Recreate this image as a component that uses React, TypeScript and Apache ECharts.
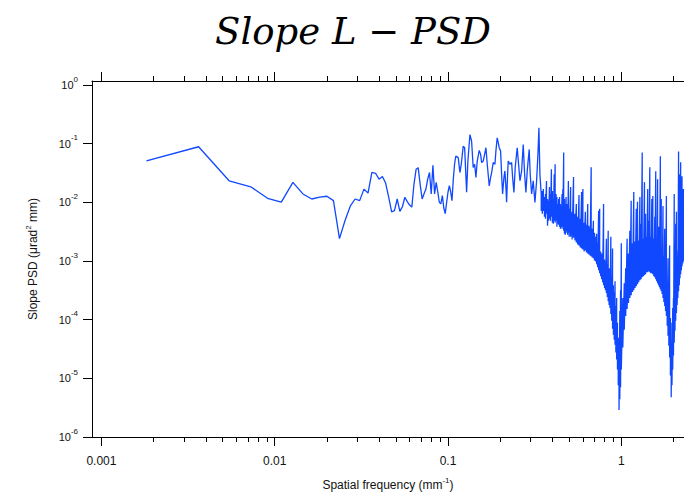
import React, { useEffect, useRef } from "react";
import * as echarts from "echarts";

// ---------- axis ranges and ticks ----------
const X_MIN = 0.000882;
const X_MAX = 2.3;
const Y_MIN = 1e-6;
const Y_MAX = 1.17;

const xMajorTicks = [0.001, 0.01, 0.1, 1];
const xTickLabels = ["0.001", "0.01", "0.1", "1"];
const xMinorTicks = [
  0.002, 0.003, 0.004, 0.005, 0.006, 0.007, 0.008, 0.009,
  0.02, 0.03, 0.04, 0.05, 0.06, 0.07, 0.08, 0.09,
  0.2, 0.3, 0.4, 0.5, 0.6, 0.7, 0.8, 0.9,
  2,
];
const yMajorTicks = [1e-6, 1e-5, 1e-4, 1e-3, 1e-2, 1e-1, 1];
const yTickExponents = ["-6", "-5", "-4", "-3", "-2", "-1", "0"];

// ---------- data: low-frequency bins (mm^-1, µrad² mm) ----------
const lowFreq = [
  0.001818, 0.003636, 0.005454, 0.007272, 0.00909, 0.01091, 0.01273, 0.01454, 0.01636, 0.01818,
  0.02, 0.02182, 0.02363, 0.02545, 0.02727, 0.02909, 0.03091, 0.03272, 0.03454, 0.03636,
  0.03818, 0.04, 0.04181, 0.04363, 0.04545, 0.04727, 0.04909, 0.0509, 0.05272, 0.05454,
  0.05636, 0.05818, 0.06, 0.06181, 0.06363, 0.06545, 0.06727, 0.06908, 0.0709, 0.07272,
  0.07454, 0.07636, 0.07817, 0.08, 0.08181, 0.08363, 0.08545, 0.08726, 0.08908, 0.0909,
  0.09272, 0.09454, 0.09635, 0.09817, 0.1, 0.1018, 0.1036, 0.1054, 0.1073, 0.1091, 0.1109,
];
const lowPsd = [
  0.0507, 0.0886, 0.0233, 0.0184, 0.0117, 0.0101, 0.0219, 0.0139, 0.0114, 0.0123,
  0.0127, 0.0107, 0.00241, 0.0049, 0.0086, 0.0114, 0.0107, 0.0168, 0.0144, 0.0323,
  0.0313, 0.0248, 0.0276, 0.0213, 0.0123, 0.0069, 0.0072, 0.0114, 0.007, 0.0084,
  0.0122, 0.0103, 0.009, 0.0083, 0.0205, 0.0367, 0.039, 0.02, 0.0114, 0.014,
  0.0168, 0.025, 0.0323, 0.0139, 0.0428, 0.0139, 0.0219, 0.015, 0.01, 0.0094,
  0.013, 0.008, 0.0064, 0.01, 0.015, 0.0193, 0.015, 0.0107, 0.025, 0.045, 0.0616,
];

// ---------- data: mid frequencies ----------
const midFreq = [
  0.1145, 0.1171, 0.1192, 0.1224, 0.1247, 0.128, 0.1302, 0.1338, 0.1368, 0.1397,
  0.1424, 0.1449, 0.1474, 0.1514, 0.1542, 0.1563, 0.1596, 0.1626, 0.1655, 0.1684,
  0.1729, 0.1761, 0.1785, 0.1823, 0.1865, 0.1889, 0.1922, 0.1949, 0.1974, 0.2011,
  0.2038, 0.2065, 0.2102, 0.2129, 0.2158, 0.2178, 0.2207, 0.2225, 0.2276, 0.2328,
  0.2359, 0.24, 0.2442, 0.2507, 0.2554, 0.26, 0.2659, 0.2716, 0.2767, 0.2815,
  0.2864, 0.2941, 0.298, 0.3037, 0.3101, 0.3173, 0.3245, 0.3302, 0.3346, 0.339,
];
const midPsd = [
  0.0578, 0.0322, 0.0445, 0.0907, 0.0853, 0.0148, 0.0506, 0.143, 0.11, 0.0392,
  0.0445, 0.0265, 0.0506, 0.0768, 0.0657, 0.0476, 0.0506, 0.0657, 0.0853, 0.0445,
  0.0191, 0.0265, 0.0322, 0.0476, 0.0445, 0.0747, 0.126, 0.104, 0.0853, 0.0747,
  0.0302, 0.0139, 0.0265, 0.0343, 0.018, 0.01, 0.0302, 0.0506, 0.0445, 0.0476,
  0.0265, 0.0148, 0.0392, 0.0853, 0.0445, 0.0233, 0.0343, 0.0969, 0.0302, 0.0148,
  0.0343, 0.0798, 0.0302, 0.0139, 0.0233, 0.01, 0.0233, 0.0657, 0.186, 0.0302,
];

// ---------- data: dense high-frequency band (upper and lower value per frequency) ----------
const bandFreq = [
  0.345, 0.35, 0.355, 0.36, 0.365, 0.37, 0.375, 0.38, 0.385, 0.39, 0.395, 0.4, 0.405, 0.41, 0.415, 0.42,
  0.425, 0.43, 0.435, 0.44, 0.445, 0.45, 0.455, 0.46, 0.465, 0.47, 0.475, 0.48, 0.485, 0.49, 0.495, 0.5,
  0.51, 0.52, 0.53, 0.54, 0.55, 0.56, 0.57, 0.58, 0.59, 0.6, 0.61, 0.62, 0.63, 0.64, 0.65, 0.66, 0.67, 0.68,
  0.69, 0.7, 0.71, 0.72, 0.73, 0.74, 0.75, 0.76, 0.77, 0.78, 0.79, 0.8, 0.81, 0.82, 0.83, 0.84, 0.85, 0.86,
  0.87, 0.88, 0.89, 0.9, 0.91, 0.92, 0.93, 0.94, 0.95, 0.96, 0.97, 0.98, 0.99, 1.0,
  1.02, 1.04, 1.06, 1.08, 1.1, 1.12, 1.14, 1.16, 1.18, 1.2, 1.22, 1.24, 1.26, 1.28, 1.3, 1.32, 1.34, 1.36,
  1.38, 1.4, 1.42, 1.44, 1.46, 1.48, 1.5, 1.52, 1.54, 1.56, 1.58, 1.6, 1.62, 1.64, 1.66, 1.68, 1.7, 1.72,
  1.74, 1.76, 1.78, 1.8, 1.82, 1.84, 1.86, 1.88, 1.9, 1.92, 1.94, 1.96, 1.98, 2.0, 2.02, 2.04, 2.06, 2.08,
  2.1, 2.12, 2.14, 2.16, 2.18, 2.2, 2.22, 2.24, 2.26, 2.28, 2.3,
];
const bandTop = [
  0.0139, 0.0156, 0.0168, 0.0123, 0.0139, 0.023, 0.0114, 0.0106, 0.0182, 0.0139, 0.0367, 0.0156, 0.0114, 0.0302, 0.0445, 0.0139,
  0.0123, 0.0094, 0.0114, 0.0123, 0.0094, 0.00836, 0.0139, 0.0168, 0.071, 0.0114, 0.0094, 0.0123, 0.0094, 0.00836, 0.023, 0.00774,
  0.0182, 0.00688, 0.0269, 0.00637, 0.0094, 0.00566, 0.0133, 0.00524, 0.015, 0.0168, 0.00449, 0.00688, 0.00415, 0.0094, 0.00399, 0.00369, 0.0396, 0.00355,
  0.00485, 0.00304, 0.0026, 0.00292, 0.00206, 0.00716, 0.00774, 0.00145, 0.00134, 0.0012, 0.0094, 0.00106, 0.000984, 0.0024, 0.000876, 0.00329, 0.00075, 0.000694,
  0.0026, 0.000549, 0.00163, 0.000387, 0.000295, 0.000452, 0.000171, 0.000234, 0.0000883, 0.0000493, 0.0000226, 0.000141, 0.000318, 0.002,
  0.000234, 0.000418, 0.00075, 0.0024, 0.00134, 0.00329, 0.0106, 0.002, 0.015, 0.00214, 0.00774, 0.0102, 0.00223, 0.0123, 0.00432, 0.071, 0.0024, 0.0221,
  0.00637, 0.0026, 0.0168, 0.00485, 0.0396, 0.0026, 0.0114, 0.0128, 0.0024, 0.00566, 0.0339, 0.00223, 0.0248, 0.00384, 0.00191, 0.0608, 0.0114, 0.00163,
  0.00869, 0.0012, 0.00355, 0.00075, 0.0128, 0.000418, 0.00111, 0.000234, 0.00183, 0.000107, 0.0000406, 0.0000883, 0.000158, 0.000234, 0.0139, 0.00051, 0.00432, 0.00688,
  0.0012, 0.00151, 0.0738, 0.0302, 0.0024, 0.0481, 0.00281, 0.0279, 0.00384, 0.0168, 0.00384,
];
const bandBottom = [
  0.00716, 0.00637, 0.00716, 0.00566, 0.00524, 0.00637, 0.00399, 0.00485, 0.00524, 0.00485, 0.00566, 0.00449, 0.00432, 0.00485, 0.00449, 0.00485,
  0.00384, 0.00432, 0.00415, 0.00384, 0.00355, 0.00384, 0.00355, 0.00384, 0.00329, 0.00292, 0.00281, 0.00329, 0.00304, 0.00281, 0.00304, 0.0026,
  0.0026, 0.00232, 0.0025, 0.00223, 0.00206, 0.00191, 0.00183, 0.0017, 0.00163, 0.00157, 0.00145, 0.00151, 0.0014, 0.00134, 0.00129, 0.00124, 0.0012, 0.00115,
  0.00111, 0.00102, 0.000984, 0.000876, 0.00078, 0.000694, 0.000617, 0.000549, 0.000489, 0.000435, 0.000387, 0.000345, 0.000318, 0.000284, 0.000243, 0.000207, 0.000178, 0.000158,
  0.000125, 0.0000954, 0.0000699, 0.0000553, 0.0000456, 0.0000375, 0.0000275, 0.000021, 0.0000142, 0.00000762, 0.00000288, 0.00000442, 0.00000705, 0.0000142,
  0.0000334, 0.0000673, 0.000116, 0.000152, 0.000192, 0.000234, 0.000262, 0.000295, 0.000318, 0.000345, 0.000372, 0.000403, 0.000435, 0.00047, 0.000489, 0.000528, 0.000549, 0.000571,
  0.000594, 0.000642, 0.000642, 0.000667, 0.000642, 0.000617, 0.000617, 0.000594, 0.000549, 0.000528, 0.000489, 0.000452, 0.000418, 0.000387, 0.000358, 0.000331, 0.000306, 0.000273,
  0.000234, 0.0002, 0.000171, 0.000141, 0.000116, 0.0000786, 0.0000533, 0.0000361, 0.0000226, 0.0000112, 0.00000478, 0.00000762, 0.0000142, 0.0000245, 0.0000406, 0.0000647, 0.0000954, 0.00013,
  0.000178, 0.000234, 0.000306, 0.000387, 0.00051, 0.000594, 0.000694, 0.00081, 0.000911, 0.000984, 0.00106,
];

const TITLE = "Slope L − PSD";
const X_NAME = "{n|Spatial frequency (mm}{s|-1}{n|)}";
const Y_NAME = "{n|Slope PSD (μrad}{s|2}{n| mm)}";

const FONT = '"Liberation Sans", Arial, sans-serif';
const TXT = "#111";
const AX = "#000";
const LINE_COLOR = "#1048ff";

export default function App() {
  const ref = useRef<HTMLDivElement>(null);

  useEffect(() => {
    if (!ref.current) return;
    const chart = echarts.init(ref.current, null, { renderer: "svg" });
    const lg = Math.log10;

    const data: number[][] = [];
    lowFreq.forEach((f, i) => data.push([f, lowPsd[i]]));
    midFreq.forEach((f, i) => data.push([f, midPsd[i]]));
    bandFreq.forEach((f, i) => {
      data.push([f, bandTop[i]]);
      data.push([f, bandBottom[i]]);
    });

    const idxOf = (arr: number[], v: number) =>
      arr.findIndex((t) => Math.abs(lg(t) - v) < 1e-6);

    const nameRich = {
      n: { fontSize: 12, fontFamily: FONT, color: TXT, lineHeight: 18, verticalAlign: "middle" },
      s: { fontSize: 8, fontFamily: FONT, color: TXT, lineHeight: 6, verticalAlign: "top" },
    };

    const expX = {
      type: "value",
      min: lg(X_MIN),
      max: lg(X_MAX),
      gridIndex: 0,
      splitLine: { show: false },
      axisLine: { show: false, onZero: false },
      axisLabel: { show: false },
    };

    const option: any = {
      animation: false,
      backgroundColor: "#fff",
      graphic: [
        {
          type: "text",
          x: 353,
          y: 31,
          style: {
            text: TITLE,
            font: 'italic 37px "DejaVu Serif"',
            fill: "#000",
            textAlign: "center",
            textVerticalAlign: "middle",
            align: "center",
            verticalAlign: "middle",
          },
        },
      ],
      grid: { left: 92, right: 0, top: 81, bottom: 55, containLabel: false },
      xAxis: [
        {
          type: "log",
          min: X_MIN,
          max: X_MAX,
          position: "bottom",
          axisLine: { show: true, onZero: false, lineStyle: { color: AX, width: 1 } },
          axisTick: { show: false },
          axisLabel: { show: false },
          splitLine: { show: false },
        },
        {
          ...expX,
          position: "bottom",
          axisTick: {
            show: true,
            length: 9,
            customValues: xMajorTicks.map(lg),
            lineStyle: { color: AX, width: 1 },
          },
          axisLabel: {
            show: true,
            customValues: xMajorTicks.map(lg),
            margin: 18,
            fontSize: 12,
            fontFamily: FONT,
            color: TXT,
            formatter: (v: number) => {
              const i = idxOf(xMajorTicks, v);
              return i >= 0 ? xTickLabels[i] : "";
            },
          },
          name: X_NAME,
          nameLocation: "middle",
          nameGap: 39,
          nameTextStyle: { rich: nameRich },
        },
        {
          ...expX,
          position: "bottom",
          axisTick: {
            show: true,
            length: 5,
            customValues: xMinorTicks.map(lg),
            lineStyle: { color: AX, width: 1 },
          },
        },
        {
          ...expX,
          position: "top",
          axisLine: { show: true, onZero: false, lineStyle: { color: AX, width: 1 } },
          axisTick: {
            show: true,
            length: 9,
            customValues: xMajorTicks.map(lg),
            lineStyle: { color: AX, width: 1 },
          },
        },
        {
          ...expX,
          position: "top",
          axisTick: {
            show: true,
            length: 5,
            customValues: xMinorTicks.map(lg),
            lineStyle: { color: AX, width: 1 },
          },
        },
      ],
      yAxis: [
        {
          type: "log",
          min: Y_MIN,
          max: Y_MAX,
          position: "left",
          axisLine: { show: true, onZero: false, lineStyle: { color: AX, width: 1 } },
          axisTick: { show: false },
          axisLabel: { show: false },
          splitLine: { show: false },
        },
        {
          type: "value",
          min: lg(Y_MIN),
          max: lg(Y_MAX),
          position: "left",
          splitLine: { show: false },
          axisLine: { show: false, onZero: false },
          axisTick: {
            show: true,
            length: 9,
            customValues: yMajorTicks.map(lg),
            lineStyle: { color: AX, width: 1 },
          },
          axisLabel: {
            show: true,
            customValues: yMajorTicks.map(lg),
            margin: 14,
            formatter: (v: number) => {
              const i = idxOf(yMajorTicks, v);
              return i >= 0 ? `{b|10}{s|${yTickExponents[i]}}` : "";
            },
            rich: {
              b: { fontSize: 11, fontFamily: FONT, color: TXT, lineHeight: 20, verticalAlign: "middle" },
              s: { fontSize: 8, fontFamily: FONT, color: TXT, lineHeight: 6, verticalAlign: "top" },
            },
          },
          name: Y_NAME,
          nameLocation: "middle",
          nameGap: 50,
          nameRotate: 90,
          nameTextStyle: { rich: nameRich },
        },
      ],
      series: [
        {
          type: "line",
          xAxisIndex: 0,
          yAxisIndex: 0,
          data,
          symbol: "none",
          showSymbol: false,
          silent: true,
          clip: true,
          lineStyle: { color: LINE_COLOR, width: 1.3 },
        },
      ],
    };

    chart.setOption(option);
    return () => chart.dispose();
  }, []);

  return (
    <div
      ref={ref}
      style={{ position: "fixed", left: 0, top: 0, width: 684, height: 496, background: "#fff" }}
    />
  );
}
